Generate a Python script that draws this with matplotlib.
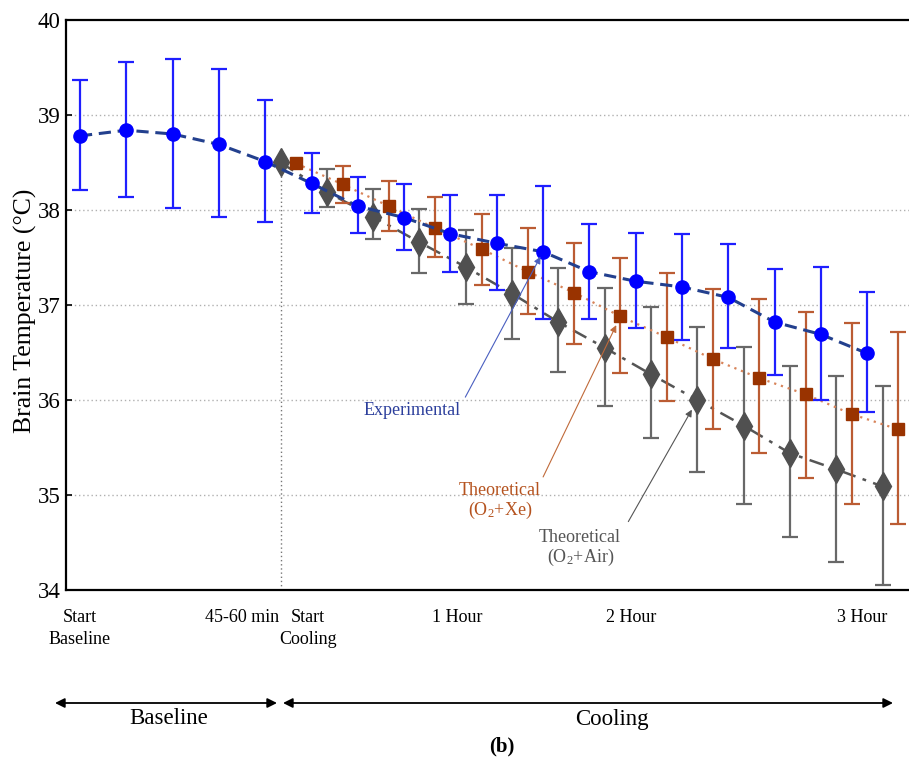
import numpy as np
import matplotlib
matplotlib.use("Agg")
import matplotlib.pyplot as plt

plt.rcParams['font.family'] = ['Liberation Serif', 'DejaVu Serif']
plt.rcParams['mathtext.fontset'] = 'custom'
plt.rcParams['mathtext.rm'] = 'Liberation Serif'
plt.rcParams['mathtext.it'] = 'Liberation Serif:italic'

# ---- data (x = sample index along the time axis) ----
exp_x = [0, 1, 2, 3, 4, 5, 6, 7, 8, 9, 10, 11, 12, 13, 14, 15, 16, 17]
exp_mean = [38.78, 38.84, 38.80, 38.69, 38.51, 38.28, 38.04, 37.92, 37.75, 37.65,
            37.56, 37.35, 37.25, 37.19, 37.08, 36.82, 36.69, 36.49]
exp_hi = [39.37, 39.56, 39.59, 39.48, 39.16, 38.60, 38.35, 38.27, 38.16, 38.16,
          38.25, 37.85, 37.76, 37.75, 37.64, 37.38, 37.40, 37.14]
exp_lo = [38.21, 38.14, 38.02, 37.93, 37.87, 37.97, 37.76, 37.58, 37.35, 37.16,
          36.85, 36.85, 36.76, 36.63, 36.55, 36.26, 36.00, 35.87]

xe_x = [4.67, 5.67, 6.67, 7.67, 8.67, 9.67, 10.67, 11.67, 12.67, 13.67, 14.67,
        15.67, 16.67, 17.67]
xe_mean = [38.49, 38.27, 38.04, 37.81, 37.59, 37.35, 37.13, 36.88, 36.66, 36.43,
           36.23, 36.06, 35.85, 35.69]
xe_hi = [38.49, 38.46, 38.31, 38.14, 37.96, 37.81, 37.65, 37.49, 37.34, 37.17,
         37.06, 36.93, 36.81, 36.72]
xe_lo = [38.49, 38.07, 37.78, 37.50, 37.21, 36.91, 36.59, 36.28, 35.99, 35.69,
         35.44, 35.18, 34.91, 34.69]

air_x = [4.33, 5.33, 6.33, 7.33, 8.33, 9.33, 10.33, 11.33, 12.33, 13.33, 14.33,
         15.33, 16.33, 17.33]
air_mean = [38.50, 38.19, 37.93, 37.66, 37.40, 37.12, 36.82, 36.55, 36.27, 36.00,
            35.73, 35.44, 35.27, 35.09]
air_hi = [38.50, 38.43, 38.22, 38.01, 37.79, 37.60, 37.39, 37.18, 36.98, 36.77,
          36.56, 36.36, 36.25, 36.15]
air_lo = [38.50, 38.03, 37.69, 37.34, 37.01, 36.64, 36.29, 35.94, 35.60, 35.24,
          34.91, 34.56, 34.29, 34.05]

tick_pos = [0, 3.49, 4.93, 8.14, 11.9, 16.9]
tick_labels = ["Start\nBaseline", "45-60 min", "Start\nCooling", "1 Hour", "2 Hour", "3 Hour"]
yticks = [34, 35, 36, 37, 38, 39, 40]
start_cooling_x = 4.33

W, H = 909, 760
fig = plt.figure(figsize=(W / 100, H / 100), dpi=100)
ax = fig.add_axes([66 / W, 1 - 590 / H, (915 - 66) / W, 570 / H])
ax.set_xlim(-0.302, 18.03)
ax.set_ylim(34, 40)

# grid
for y in yticks[1:-1]:
    ax.axhline(y, color='#b0b0b0', lw=1.0, ls=(0, (1, 2)), zorder=0)
ax.plot([start_cooling_x, start_cooling_x], [34, air_mean[0]], color='#777777',
        lw=1.0, ls=(0, (1, 2)), zorder=0)


def draw(x, m, hi, lo, line_color, line_ls, line_lw, mk, mk_color, mk_size, eb_color, z):
    x = np.array(x); m = np.array(m); hi = np.array(hi); lo = np.array(lo)
    ax.plot(x, m, color=line_color, ls=line_ls, lw=line_lw, zorder=z)
    sel = hi > lo
    ax.errorbar(x[sel], m[sel], yerr=[m[sel] - lo[sel], hi[sel] - m[sel]], fmt='none',
                ecolor=eb_color, elinewidth=1.6, capsize=6, capthick=1.6, zorder=z + 0.1)
    ax.plot(x, m, ls='none', marker=mk, color=mk_color, ms=mk_size, mec=mk_color, zorder=z + 0.2)


draw(air_x, air_mean, air_hi, air_lo, '#555555', (0, (6, 3, 1.5, 3)), 1.8, 'd', '#505050', 14,
     '#686868', 3)
draw(xe_x, xe_mean, xe_hi, xe_lo, '#d8845a', (0, (1, 2.2)), 1.6, 's', '#993300', 9,
     '#bb5c33', 4)
draw(exp_x, exp_mean, exp_hi, exp_lo, '#23408e', (0, (4, 2.2)), 2.2, 'o', '#0000ff', 9.5,
     '#1f1fff', 5)

# annotations
ax.text(7.17, 35.89, "Experimental", color='#2c3f9c', fontsize=13, ha='center', va='center')
ax.annotate('', xy=(exp_x[10], exp_mean[10]), xytext=(8.32, 36.03),
            arrowprops=dict(arrowstyle='-|>', color='#4a5fc0', lw=0.8, shrinkA=0, shrinkB=4,
                            mutation_scale=10), zorder=6)
ax.text(9.07, 34.93, "Theoretical\n(O$_2$+Xe)", color='#b5531f', fontsize=13, ha='center',
        va='center', multialignment='center', linespacing=1.05)
ax.annotate('', xy=(xe_x[7], xe_mean[7]), xytext=(10.0, 35.19),
            arrowprops=dict(arrowstyle='-|>', color='#c06a3a', lw=0.8, shrinkA=0, shrinkB=7,
                            mutation_scale=10), zorder=6)
ax.text(10.80, 34.44, "Theoretical\n(O$_2$+Air)", color='#555555', fontsize=13, ha='center',
        va='center', multialignment='center', linespacing=1.05)
ax.annotate('', xy=(air_x[9], air_mean[9]), xytext=(11.84, 34.72),
            arrowprops=dict(arrowstyle='-|>', color='#555555', lw=0.8, shrinkA=0, shrinkB=8,
                            mutation_scale=10), zorder=6)

# axes styling
for s in ['left', 'bottom', 'top']:
    ax.spines[s].set_linewidth(1.6)
ax.spines['right'].set_visible(False)
ax.set_yticks(yticks)
ax.tick_params(axis='y', direction='in', length=4, width=1.2, labelsize=16.5, pad=4)
ax.set_xticks(tick_pos)
ax.set_xticklabels(tick_labels, fontsize=13, linespacing=1.35)
ax.tick_params(axis='x', length=0, pad=14)

fig.text(25 / W, 1 - 311 / H, "Brain Temperature (°C)", rotation=90, ha='center', va='center',
         fontsize=18.5)

# phase arrows below the axes
arrow_kw = dict(arrowstyle='<|-|>', color='black', lw=1.3, shrinkA=0, shrinkB=0,
                mutation_scale=14)
ax.annotate('', xy=(277, H - 703), xytext=(55, H - 703), xycoords='figure pixels',
            textcoords='figure pixels', arrowprops=arrow_kw)
ax.annotate('', xy=(893, H - 703), xytext=(283, H - 703), xycoords='figure pixels',
            textcoords='figure pixels', arrowprops=arrow_kw)
fig.text(169 / W, 1 - 718 / H, "Baseline", ha='center', va='center', fontsize=16.5)
fig.text(612 / W, 1 - 719 / H, "Cooling", ha='center', va='center', fontsize=16.5)
fig.text(502 / W, 1 - 746 / H, "(b)", ha='center', va='center', fontsize=15, fontweight='bold')

fig.savefig("out.png", dpi=100)
